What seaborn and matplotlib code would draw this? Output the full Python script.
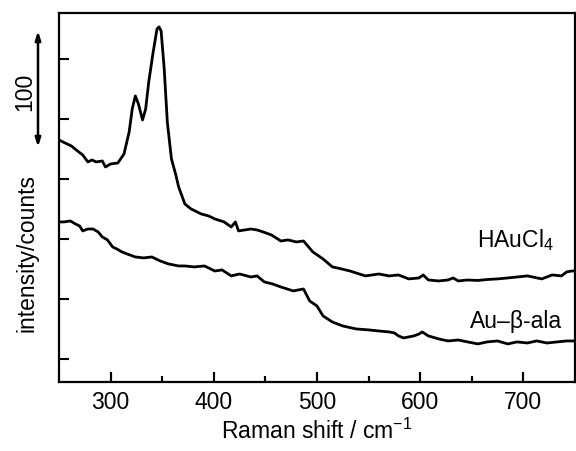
import matplotlib
matplotlib.use("Agg")
import matplotlib.pyplot as plt
import matplotlib.transforms as mtransforms
from matplotlib.ticker import MultipleLocator, NullFormatter, FuncFormatter
import seaborn as sns
import pandas as pd

# Raman shift (cm-1) and intensity (counts, arbitrary offset)
hau_shift = [250, 254, 262, 268, 273, 278, 282, 286, 292, 295, 300, 307, 313, 318, 321,
             324, 327, 331, 334, 337, 341, 345, 347, 349, 352, 355, 359, 363, 366, 372,
             378, 388, 395, 401, 410, 417, 421, 424, 436, 442, 448, 456, 465, 472, 480,
             487, 496, 506, 515, 524, 532, 547,
             560, 570, 579, 589, 599, 603, 608, 618, 627, 632, 637, 646, 656, 665, 675,
             685, 694, 704, 718, 728, 737, 742, 747, 750]
hau_int = [182.5, 180.8, 177.5, 173.3, 170.0, 164.2, 165.8, 164.2, 165.0, 160.0, 162.5,
           163.3, 170.8, 189.2, 208.3, 219.2, 212.5, 199.2, 208.3, 230.8, 254.2, 275.0,
           276.7, 273.3, 241.7, 197.5, 166.7, 154.2, 143.3, 129.2, 125.0, 120.8, 119.2,
           116.7, 114.2, 110.0, 114.2, 106.7, 108.3, 107.5, 105.8, 103.3, 98.3, 99.2,
           97.5, 98.3, 89.2, 83.3, 76.7, 75.0, 73.3, 69.2,
           70.8, 69.2, 70.0, 66.7, 67.5, 70.0, 65.8, 65.0, 65.8, 67.5, 65.0, 65.8, 65.4,
           66.2, 66.7, 67.5, 68.3, 69.2, 66.7, 70.0, 69.2, 72.5, 73.3, 73.3]

ala_shift = [250, 255, 261, 266, 270, 273, 278, 283, 288, 292, 297, 302, 306, 311, 316,
             324, 332, 340, 348, 356, 366, 372, 381, 391, 401, 408, 417, 425, 436, 442,
             449, 457, 465, 477, 487, 493, 500, 506, 515, 525, 538, 550,
             560, 570, 575, 579, 584, 594, 599, 602, 608, 618, 627, 637, 646, 656, 665,
             675, 685, 694, 704, 713, 723, 733, 742, 750]
ala_int = [114.2, 114.2, 115.0, 112.5, 110.8, 106.7, 108.3, 108.3, 105.8, 101.7, 99.2,
           93.3, 91.7, 89.2, 87.5, 85.0, 84.2, 85.0, 81.7, 79.2, 77.5, 77.5, 76.7, 77.5,
           73.3, 74.2, 69.2, 70.8, 68.3, 69.2, 64.2, 62.5, 60.0, 56.7, 58.3, 48.3, 44.2,
           35.8, 30.8, 27.5, 25.0, 24.2,
           23.3, 22.5, 21.7, 19.2, 17.5, 19.2, 20.8, 22.5, 19.2, 16.7, 15.0, 15.8, 14.2,
           12.5, 14.2, 15.0, 12.5, 14.2, 13.3, 15.0, 13.3, 14.2, 15.0, 15.0]

sns.set_style("ticks")
plt.rcParams['font.family'] = ['Liberation Sans', 'DejaVu Sans']
plt.rcParams['mathtext.fontset'] = 'custom'
plt.rcParams['mathtext.rm'] = 'Liberation Sans'
plt.rcParams['text.color'] = 'black'
plt.rcParams['axes.labelcolor'] = 'black'
plt.rcParams['xtick.color'] = 'black'
plt.rcParams['ytick.color'] = 'black'

FS = 16.5

df = pd.concat([
    pd.DataFrame({"shift": hau_shift, "intensity": hau_int, "sample": "HAuCl4"}),
    pd.DataFrame({"shift": ala_shift, "intensity": ala_int, "sample": "Au-b-ala"}),
])

fig = plt.figure(figsize=(5.76, 4.52), dpi=100)
ax = fig.add_axes([0.1024, 0.1527, 0.8956, 0.8163])

sns.lineplot(data=df, x="shift", y="intensity", units="sample", estimator=None,
             sort=False, color="black", lw=2.0, ax=ax)

ax.set_xlim(250, 750)
ax.set_ylim(-19.2, 288.3)
# every 50 cm-1 a tick, labels only on the hundreds
ax.xaxis.set_major_locator(MultipleLocator(50))
ax.xaxis.set_major_formatter(FuncFormatter(lambda v, p: f"{v:.0f}" if v % 100 == 0 else ""))
ax.yaxis.set_major_locator(MultipleLocator(50))
ax.yaxis.set_major_formatter(NullFormatter())
ax.tick_params(axis="both", which="major", direction="in", length=7.5, width=1.5,
               labelsize=FS, pad=6, color="black", labelcolor="black")
fig.canvas.draw()
for loc, t in zip(ax.get_xticks(), ax.xaxis.get_major_ticks()):
    if loc % 100 != 0:
        t.tick1line.set_markersize(4.5)

# the x tick marks sometimes went missing in the render, so draw them as short lines too
trans = mtransforms.blended_transform_factory(ax.transData, ax.transAxes)
inner = [v for v in ax.get_xticks() if 250 < v < 750]
ax.vlines([v for v in inner if v % 100 == 0], 0, 0.0282, transform=trans,
          color="black", lw=1.5, clip_on=False, zorder=3)
ax.vlines([v for v in inner if v % 100 != 0], 0, 0.0169, transform=trans,
          color="black", lw=1.5, clip_on=False, zorder=3)

for s in ax.spines.values():
    s.set_linewidth(1.6)
    s.set_color("black")

ax.set_xlabel("Raman shift / cm$^{-1}$", fontsize=FS, labelpad=3)
ax.set_ylabel("")

ax.text(730, 100, "HAuCl$_4$", fontsize=FS, ha="right", va="center")
ax.text(738, 32, "Au\u2013\u03b2-ala", fontsize=FS, ha="right", va="center")

# scale bar for 100 counts
ax.annotate("", xy=(38 / 576, 1 - 32 / 452), xytext=(38 / 576, 1 - 148 / 452),
            xycoords="figure fraction", textcoords="figure fraction",
            annotation_clip=False,
            arrowprops=dict(arrowstyle="<|-|>,head_length=0.5,head_width=0.16",
                            lw=1.8, color="black", shrinkA=0, shrinkB=0))
fig.text(25 / 576, 1 - 92 / 452, "100", rotation=90, fontsize=FS, ha="center", va="center")
fig.text(27 / 576, 1 - 253 / 452, "intensity/counts", rotation=90, fontsize=FS,
         ha="center", va="center")

fig.savefig("out.png", dpi=100)
